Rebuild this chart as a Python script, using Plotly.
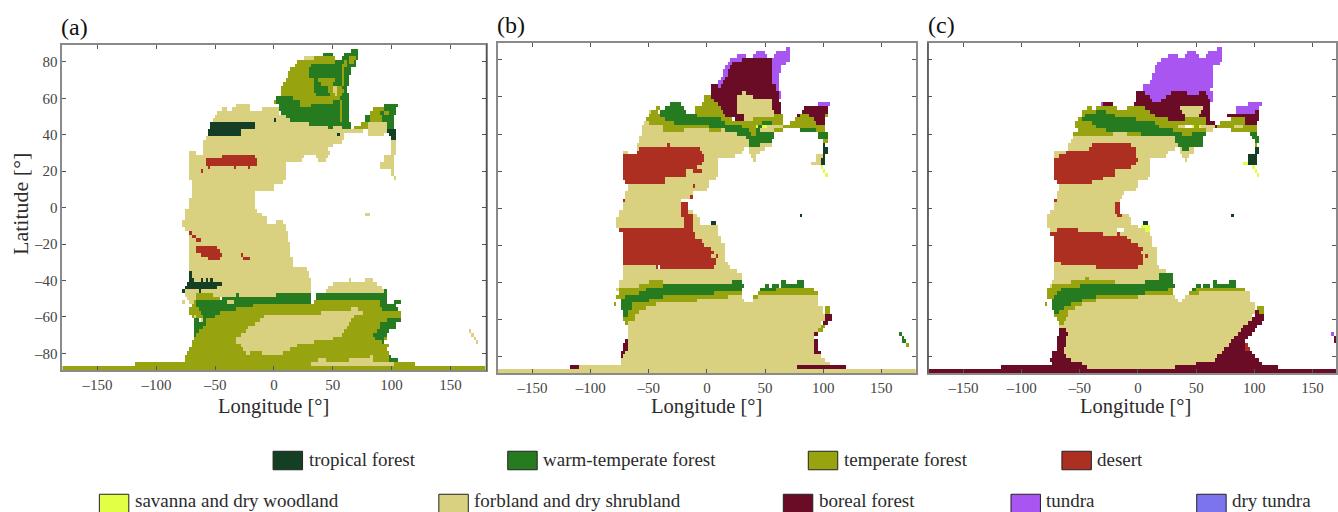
import numpy as np
import plotly.graph_objects as go

BIOME_NAMES = ["tropical forest", "warm-temperate forest", "temperate forest", "desert",
               "savanna and dry woodland", "forbland and dry shrubland", "boreal forest",
               "tundra", "dry tundra"]
BIOME_CODES = ["T", "W", "F", "D", "S", "G", "B", "U", "Y"]
BIOME_COLORS = ["#153f24", "#267a20", "#97a30f", "#ac2f22", "#e2ff45", "#d9d17f",
                "#6b0c27", "#a855f2", "#7c74ef"]
LON_TICKS = [-150, -100, -50, 0, 50, 100, 150]
LAT_TICKS = [-80, -60, -40, -20, 0, 20, 40, 60, 80]

# Each row: latitude -> "biome lon0 lon1" runs, later runs paint over earlier ones.
PANEL_A = {
86:"W 66 72", 84:"W 42 50,W 60 72", 82:"G 26 34,F 34 40,F 40 52,W 58 72,F 64 70",
80:"F 20 52,W 52 60,F 60 62,W 62 70,F 64 68", 78:"F 18 32,W 32 58,F 58 62,W 62 70",
76:"F 14 30,W 30 66,F 58 60", 74:"F 12 30,W 30 66,F 58 60", 72:"F 12 30,W 30 64,F 58 60",
70:"F 10 34,W 34 38,F 38 52,W 52 58,F 58 60,W 60 64", 68:"F 8 34,W 34 40,F 40 50,W 50 58,F 58 60,W 60 64",
66:"F 6 34,W 34 46,F 46 50,G 50 54,F 54 58,W 58 62", 64:"F 6 34,W 34 46,F 46 50,G 50 54,F 54 60,W 60 62",
62:"F 6 36,W 36 48,F 48 52,G 52 54,F 54 58,W 58 64", 60:"W 2 16,F 16 56,W 56 64",
58:"F 0 2,W 2 22,F 22 50,W 50 64,F 56 58", 56:"G -32 -20,W 4 64,F 22 32,F 56 58,W 94 106",
54:"G -44 -40,G -36 -20,G -10 4,W 4 64,F 56 58,F 84 94,W 94 104",
52:"G -48 4,W 6 64,F 56 58,F 82 90,W 90 94,F 94 98,W 98 104",
50:"G -50 10,W 10 64,F 56 58,W 78 82,F 82 92,W 92 102",
48:"G -52 14,T 0 2,W 14 64,F 56 58,W 78 82,F 82 92,W 92 102",
46:"G -54 30,T -54 -16,W 30 66,F 74 80,G 80 96,W 96 102",
44:"G -54 46,T -54 -16,W 46 50,G 50 58,W 58 66,F 68 80,G 80 96,W 96 102",
42:"G -56 76,T -56 -28,G 80 96,T 97 104", 40:"G -56 60,T -56 -28,T 54 56,G 80 94,T 98 104",
38:"G -58 60,T 100 104", 36:"G -60 58,G 100 104", 34:"G -60 50,G 100 104", 32:"G -60 46,G 100 104",
30:"G -72 -66,G -60 48,G 100 104", 28:"G -72 26,G 36 46,D -44 -16,G 94 102",
26:"G -72 24,G 38 44,D -58 -14,G 94 102", 24:"G -72 10,D -58 -14,G 90 102",
22:"G -72 10,D -56 -54,D -34 -32,D -22 -20,G 90 102", 20:"G -72 10,D -62 -60,G 100 102",
18:"G -72 10,G 100 102", 16:"G -72 10,G 102 104", 14:"G -70 8", 12:"G -70 0", 10:"G -70 0",
8:"G -70 -16", 6:"G -70 -16", 4:"G -72 -16", 2:"G -72 -16", 0:"G -72 -16",
-2:"G -76 -14", -4:"G -76 -10,G 78 82", -6:"G -76 -6", -8:"G -78 -6,G 2 8", -10:"G -78 10",
-12:"G -76 10", -14:"G -72 12,D -72 -70", -16:"G -72 12,D -70 -66", -18:"G -72 12,D -66 -62",
-20:"G -72 14", -22:"G -72 14,D -66 -48", -24:"G -72 14,D -66 -46", -26:"G -72 14,D -62 -44,D -28 -26",
-28:"G -72 16,D -56 -46,D -26 -20", -30:"G -72 16", -32:"G -72 16", -34:"G -72 28",
-36:"G -72 30,T -72 -70", -38:"G -72 30,T -72 -70",
-40:"G -72 32,T -72 -68,T -62 -60,T -58 -56,T -54 -52,G 64 66,G 78 84",
-42:"G -74 32,T -74 -44,G 50 88", -44:"G -76 32,T -76 -48,G 46 92",
-46:"G -76 32,T -78 -76,T -64 -62,G 44 94,W 94 96",
-48:"G -76 2,W -32 -30,F -66 -52,W 2 32,W 36 96",
-50:"G -74 -66,F -66 -46,W -44 32,W 36 96",
-52:"G -78 -76,G -72 -68,F -68 -66,W -66 32,G -40 -34,F 34 90,W 90 96,W 102 108",
-54:"F -70 -66,W -66 -18,F -18 90,W 90 104", -56:"F -72 -64,W -64 -32,F -32 92,W 92 106,G 66 72",
-58:"F -72 -62,W -62 -46,F -46 108,G 40 76", -60:"F -70 -60,G -68 -66,W -60 -50,F -50 108,G -8 68",
-62:"W -68 -64,G -62 -60,W -60 -58,F -58 108,G -12 66,W 96 108",
-64:"W -68 -58,F -58 104,G -16 64,W 90 104", -66:"W -68 -60,F -60 104,G -22 62,W 90 104",
-68:"W -68 -64,F -64 98,G -24 60,W 88 98,G 166 168", -70:"W -68 -66,F -66 96,G -28 58,W 84 96,G 168 170",
-72:"F -68 96,G -32 50,W 86 94,G 170 172", -74:"F -70 94,G -32 34,W 92 94,G 172 174",
-76:"F -70 98,G -28 20", -78:"F -72 96,G -26 14", -80:"F -74 98,G -24 -20,G -10 8",
-82:"F -76 100,W 98 100,G 82 84", -84:"F -76 106,G 38 44,G 64 84,W 98 106",
-86:"F -118 120,G 32 102", -88:"F -180 180", -90:"F -180 180"}

PANEL_B = {
86:"U 68 72", 84:"U 42 50,U 60 72", 82:"U 26 34,U 40 52,U 58 72", 80:"U 20 30,B 30 56,U 56 72",
78:"U 18 22,B 22 56,U 56 68", 76:"U 16 20,B 20 56,U 56 64", 74:"U 14 18,B 18 56,U 56 64",
72:"U 14 18,B 18 56,U 56 62", 70:"U 12 16,B 16 56,U 56 62", 68:"U 10 14,B 14 56,U 56 62",
66:"B 4 60,U 10 12,U 60 62", 64:"B 4 60,U 60 62", 62:"B 4 62,G 30 34,U 62 64",
60:"F -2 4,B 4 26,G 26 40,B 40 62,U 62 64", 58:"F -2 6,B 6 26,G 26 56,B 56 62",
56:"W -32 -22,F -4 10,B 10 26,G 26 56,B 56 64,U 96 106",
54:"F -44 -40,W -36 -20,F -10 12,B 12 26,G 26 56,B 56 64,B 84 104",
52:"G -50 -48,F -48 -42,W -40 -18,F -10 14,B 14 26,G 26 58,B 58 64,B 82 104",
50:"F -50 -40,W -40 -8,F -8 16,B 16 32,G 32 58,F 58 66,B 78 80,F 80 88,B 88 102,F 102 104",
48:"F -52 -36,W -36 12,F 12 22,B 24 32,G 32 40,F 40 66,F 76 92,B 92 102",
46:"G -54 -50,F -50 -28,W -28 16,F 16 48,W 48 56,F 56 66,F 72 95,B 95 102",
44:"G -56 -38,F -38 2,W 2 30,F 30 42,S 42 44,W 44 48,S 48 52,G 52 66,F 66 102",
42:"G -56 -37,F -37 -20,G -20 2,F 2 12,G 12 17,W 17 36,F 36 42,W 42 47,G 47 59,F 59 67,W 80 95,F 95 103",
40:"G -56 26,W 26 38,F 38 42,W 42 58,W 96 104", 38:"G -58 35,W 35 58,W 97 104",
36:"G -58 36,W 36 56,F 100 104", 34:"G -60 36,D -34 -32,W 36 46,G 46 56,T 100 103",
32:"G -60 33,D -58 -6,G 36 50,T 100 104", 30:"G -72 -68,G -58 30,D -60 -4,G 36 46,T 100 104",
28:"D -72 -1,G -1 25,G 38 42,G 94 100,T 100 102", 26:"D -72 -1,G -1 10,G 40 42,G 94 98,T 98 102",
24:"D -72 -4,G -4 10,G 90 98,T 98 102", 22:"D -72 -7,G -7 10,S 98 100",
20:"D -72 -18,G -18 -12,D -12 -4,G -4 10,S 100 102", 18:"D -72 -18,G -18 10,S 102 104",
16:"D -72 -36,G -36 8", 14:"D -70 -36,G -36 2", 12:"G -68 2,D -12 -10", 10:"G -68 0", 8:"G -70 -12",
6:"G -70 -12,D -14 -12", 4:"D -72 -70,G -70 -22", 2:"G -72 -22,D -22 -16", 0:"G -72 -22,D -22 -16",
-2:"G -76 -22,D -22 -16,G -16 -12", -4:"G -76 -22,D -22 -12,G -12 -8,T 80 82",
-6:"G -78 -20,D -20 -12,G -12 -6", -8:"G -78 -20,D -20 -12,G -12 -6,T 4 8", -10:"G -78 -20,D -20 -12,G -12 10",
-12:"D -76 -12,G -12 10", -14:"D -72 -10,G -10 11", -16:"D -72 -10,G -10 12", -18:"D -72 -4,G -4 12",
-20:"D -72 -2,G -2 16", -22:"D -72 4,G 4 16", -24:"D -72 6,G 6 16", -26:"D -72 5,G 5 8,D 8 10,G 10 16",
-28:"D -72 8,G 8 16", -30:"D -72 8,G 8 19", -32:"G -72 -44,D -44 -41,D -40 7,G 7 20", -34:"G -72 26",
-36:"G -72 30", -38:"G -72 30", -40:"G -75 -50,F -50 -38,G -38 22,W 22 30,W 64 68,W 78 84",
-42:"G -76 -58,F -58 -38,W -38 32,W 50 54,W 56 62,W 64 85", -44:"G -78 -76,F -76 -52,W -52 30,W 46 60,F 60 92",
-46:"F -76 -57,W -57 6,F 6 30,F 44 96", -48:"F -78 -70,W -70 -38,F -38 19,G 19 30,F 40 44,G 44 96",
-50:"W -74 -50,F -50 -7,G -7 32,G 40 96", -52:"F -80 -78,W -74 -64,F -64 -43,G -43 96",
-54:"W -74 -64,F -64 -52,G -52 100,F 102 107", -56:"W -72 -67,F -67 -58,G -58 100,F 102 106",
-58:"W -72 -67,F -67 -62,G -62 102,B 102 108", -60:"F -71 -62,G -62 102,B 102 108",
-62:"F -70 -68,G -68 99,B 100 104", -64:"G -68 99,F 99 103", -66:"G -68 96,F 96 101",
-68:"G -68 94,B 92 96,W 166 168", -70:"G -68 93,W 168 170", -72:"B -70 -68,G -68 93,B 93 96,W 168 172",
-74:"B -72 -68,G -68 92,B 92 96,F 172 174", -76:"B -72 -68,G -68 92,B 92 96", -78:"B -74 -70,G -70 92,B 92 98",
-80:"B -74 -72,G -72 98", -82:"G -74 102", -84:"G -74 106", -86:"G -118 120,B -118 -110,B 78 120",
-88:"G -180 180", -90:"G -180 180"}

PANEL_C = {
86:"U 68 72", 84:"U 42 50,U 60 72", 82:"U 26 34,U 40 52,U 58 72", 80:"U 20 72", 78:"U 16 70", 76:"U 14 64",
74:"U 14 64", 72:"U 12 64", 70:"U 12 64", 68:"U 10 64", 66:"U 4 64", 64:"U 4 62",
62:"B -2 6,U 6 29,B 29 42,U 42 52,B 52 58,U 58 64", 60:"B -2 10,U 10 25,B 25 60,U 60 64",
58:"B -2 12,U 12 20,B 20 62,U 62 64", 56:"U -32 -30,B -30 -22,B -4 63,U 95 106",
54:"F -44 -40,F -36 -18,F -10 6,B 6 36,G 36 56,B 56 63,U 84 104",
52:"F -48 -10,W -35 -27,F -10 10,B 10 38,G 38 54,B 54 63,U 84 100,B 100 104",
50:"F -48 -46,W -46 -20,F -20 14,B 14 40,G 40 52,B 52 63,B 76 104",
48:"F -52 -48,W -48 -2,F -2 27,B 27 41,F 41 58,B 58 63,F 80 92,B 92 104",
46:"F -54 -40,W -40 14,F 14 58,B 58 66,F 70 92,B 92 102",
44:"F -54 -36,W -36 18,F 18 35,G 35 41,S 46 48,F 48 52,S 52 54,G 54 66,B 66 68,F 68 103,G 82 90",
42:"F -51 -28,W -28 30,F 30 58,G 58 64,F 81 103", 40:"F -56 -22,G -22 -10,F -10 2,W 2 38,F 38 46,W 46 58,W 96 103",
38:"G -56 32,W 32 56,W 98 104", 36:"G -58 33,W 33 56,W 100 104", 34:"G -60 -39,D -39 -5,G -5 35,W 35 56,F 100 103",
32:"G -60 -42,D -42 -2,G -2 32,G 36 48,W 39 45,T 100 104", 30:"G -72 -61,D -61 -1,G -1 26,G 36 48,T 100 104",
28:"G -72 -68,D -68 -1,G -1 25,G 38 44,T 94 102", 26:"D -72 1,G 1 10,G 40 42,T 94 102",
24:"D -72 -1,G -1 10,S 90 94,T 94 102", 22:"D -72 -5,G -5 10,S 98 100", 20:"D -72 -20,G -20 10,S 100 102",
18:"D -72 -20,G -20 10,S 102 104", 16:"D -72 -30,G -30 8", 14:"D -70 -39,G -39 0", 12:"G -68 0", 10:"G -68 -1",
8:"G -70 -12", 6:"G -70 -14", 4:"D -72 -70,G -70 -16", 2:"G -72 -20,D -20 -16", 0:"G -72 -20,D -20 -16",
-2:"G -76 -20,D -20 -15", -4:"G -78 -17,D -17 -14,G -14 -8,T 80 82", -6:"G -78 -6", -8:"G -78 -5,T 4 8",
-10:"G -78 1,S 2 10", -12:"G -76 -18,G -12 10,D -70 -52,S 6 10", -14:"D -76 -30,G -30 -18,D -18 -15,G -15 10",
-16:"D -72 -10,G -10 12", -18:"D -72 -5,G -5 12", -20:"D -72 1,G 1 12", -22:"D -72 4,G 4 16", -24:"D -72 2,G 2 16",
-26:"D -72 4,G 4 6,D 6 8,G 8 16", -28:"D -72 4,G 4 16", -30:"G -72 -66,D -66 4,G 4 16", -32:"G -72 -36,D -36 0,G 0 18",
-34:"G -72 25", -36:"G -72 18,W 18 30", -38:"G -72 18,F -45 -41,W 18 30",
-40:"G -74 -58,F -58 -20,G -20 6,W 6 30,W 64 68,W 78 84", -42:"G -76 -74,F -74 -50,W -50 32,W 50 54,W 56 62,W 64 85",
-44:"F -78 -65,W -65 26,F 26 30,W 46 50,F 50 92", -46:"F -78 -69,W -69 6,F 6 30,F 44 52,G 52 96",
-48:"F -78 -72,W -72 -36,F -36 1,G 1 32,G 40 96", -50:"W -74 -48,F -48 -36,G -36 34,G 38 96",
-52:"F -80 -78,W -74 -58,F -58 -48,G -48 100", -54:"W -74 -64,F -64 -54,G -54 100,F 102 108",
-56:"W -72 -68,F -68 -60,G -60 100,B 100 104,F 104 108", -58:"F -72 -60,G -60 98,B 100 108",
-60:"F -70 -62,G -62 98,B 98 108", -62:"F -68 -64,G -64 94,B 94 106", -64:"G -68 90,B 90 102",
-66:"B -68 -62,G -62 88,B 88 100", -68:"B -68 -60,G -60 86,B 86 98,U 166 168",
-70:"B -70 -62,G -62 83,B 83 95,B 168 172", -72:"B -70 -62,G -62 81,B 81 93,B 168 172",
-74:"B -70 -62,G -62 78,B 78 92,D 92 95", -76:"B -70 -63,G -63 75,B 75 92,D 92 96",
-78:"B -74 -63,G -63 72,B 72 98", -80:"B -74 -62,G -62 69,B 69 100", -82:"B -76 -57,G -57 66,B 66 104",
-84:"B -74 -48,G -48 50,B 50 106", -86:"B -118 -44,G -44 32,B 32 120", -88:"B -180 180", -90:"B -180 180"}

W, H = 1338, 512
lon_centers = list(range(-179, 180, 2))
lat_centers = list(range(-90, 91, 2))


def grid(rows):
    z = np.full((len(lat_centers), len(lon_centers)), np.nan)
    x = np.array(lon_centers)
    for lat, text in rows.items():
        i = lat_centers.index(lat)
        for run in text.split(","):
            code, lon0, lon1 = run.split()
            z[i, (x >= float(lon0)) & (x < float(lon1))] = BIOME_CODES.index(code)
    return z


n = len(BIOME_COLORS)
scale = []
for k, c in enumerate(BIOME_COLORS):
    scale += [[k / n, c], [(k + 1) / n, c]]

# pixel boxes: (left, right, top, bottom), axis ranges
boxes = [(62.4, 486.4, 45.0, 370.2), (498.5, 917.6, 43.4, 372.9), (930.1, 1338.0, 43.4, 372.9)]
xranges = [[-180, 180], [-180, 180], [-180, 170.3]]
yranges = [[-89.3, 89.3], [-88.9, 88.9], [-88.9, 88.9]]
panels = [PANEL_A, PANEL_B, PANEL_C]
labels = ["(a)", "(b)", "(c)"]
label_y = [27, 25, 25]
FONT = "Liberation Serif"
TXT = "#2b2b2b"

fig = go.Figure()
layout = dict(width=W, height=H, autosize=False, margin=dict(l=0, r=0, t=0, b=0),
              paper_bgcolor="white", plot_bgcolor="white", showlegend=False,
              font=dict(family=FONT, color=TXT))
ann, shapes = [], []
for p, (rows, box) in enumerate(zip(panels, boxes)):
    s = "" if p == 0 else str(p + 1)
    fig.add_trace(go.Heatmap(z=grid(rows), x=lon_centers, y=lat_centers, zmin=-0.5, zmax=n - 0.5,
                             colorscale=scale, showscale=False, hoverongaps=False,
                             xaxis="x" + s, yaxis="y" + s))
    l, r, t, b = box
    common = dict(showline=True, linecolor="#8a8a8a", linewidth=1.5, ticks="inside", ticklen=4,
                  tickcolor="#555", tickwidth=1, showgrid=False, zeroline=False, mirror="allticks",
                  tickfont=dict(family=FONT, size=15, color="#444"), tickmode="array")
    layout["xaxis" + s] = dict(common, domain=[l / W, r / W], range=xranges[p], anchor="y" + s,
                               tickvals=LON_TICKS, ticktext=[str(v).replace("-", "–") for v in LON_TICKS])
    layout["yaxis" + s] = dict(common, domain=[1 - b / H, 1 - t / H], range=yranges[p], anchor="x" + s,
                               tickvals=LAT_TICKS, ticktext=[str(v).replace("-", "–") for v in LAT_TICKS],
                               showticklabels=p == 0)
    cx = [274, 708, 1137][p]
    ann.append(dict(text="Longitude [°]", x=cx / W, y=1 - 406 / H, xref="paper", yref="paper",
                    showarrow=False, xanchor="center", yanchor="middle", font=dict(size=20.5, color=TXT)))
    ann.append(dict(text=labels[p], x=(l - 3) / W, y=1 - label_y[p] / H, xref="paper", yref="paper",
                    showarrow=False, xanchor="left", yanchor="middle", font=dict(size=24, color="#111")))
ann.append(dict(text="Latitude [°]", x=20 / W, y=1 - 204 / H, xref="paper", yref="paper", textangle=-90,
                showarrow=False, xanchor="center", yanchor="middle", font=dict(size=22, color=TXT)))

# darker thin spines seen on panel (a) right and panel (c) left
for xpix, y0, y1 in [(487.0, 44.3, 370.7), (929.3, 42.7, 373.3)]:
    shapes.append(dict(type="line", xref="paper", yref="paper", x0=xpix / W, x1=xpix / W,
                       y0=1 - y0 / H, y1=1 - y1 / H, line=dict(color="#444", width=1)))

legend_rows = [(460.5, 459.5, [(0, 273.5), (1, 508.5), (2, 809.5), (3, 1063.5)]),
               (503.5, 500.5, [(4, 99.5), (5, 439.5), (6, 784.5), (7, 1012.5), (8, 1198.5)])]
for yc, ytxt, items in legend_rows:
    for k, x0 in items:
        shapes.append(dict(type="rect", xref="paper", yref="paper", x0=x0 / W, x1=(x0 + 29.5) / W,
                           y0=1 - (yc + 9.25) / H, y1=1 - (yc - 9.25) / H, fillcolor=BIOME_COLORS[k],
                           line=dict(color="#222", width=1)))
        ann.append(dict(text=BIOME_NAMES[k], x=(x0 + 33.5) / W, y=1 - ytxt / H, xref="paper", yref="paper",
                        showarrow=False, xanchor="left", yanchor="middle", font=dict(size=19, color=TXT)))
layout["annotations"] = ann
layout["shapes"] = shapes
fig.update_layout(**layout)
fig.write_html("out.html", config={"displayModeBar": False},
               post_script="document.body.style.margin='0';document.body.style.overflow='hidden';")
